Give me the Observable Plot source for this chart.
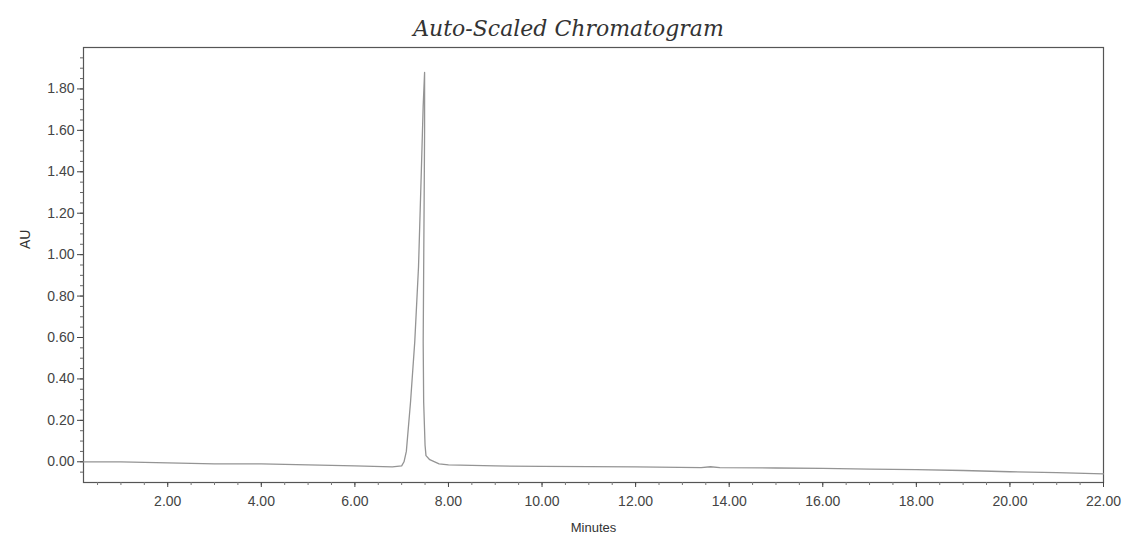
<!DOCTYPE html>
<html>
<head>
<meta charset="utf-8">
<script src="https://cdn.jsdelivr.net/npm/d3@7"></script>
<script src="https://cdn.jsdelivr.net/npm/@observablehq/plot@0.6"></script>
<style>
  html, body { margin: 0; padding: 0; background: #fff; }
</style>
</head>
<body>
<div id="chart"></div>
<script>
// Retention time (minutes) and absorbance (AU)
const minutes = [
  0.2, 1.0, 2.0, 3.0, 4.0, 5.0, 6.0, 6.8, 7.0, 7.05, 7.1, 7.19, 7.28, 7.36, 7.42, 7.46, 7.49,
  7.49, 7.48, 7.47, 7.46, 7.47, 7.50, 7.52, 7.6, 7.8, 8.0, 9.0, 10.0, 12.0, 13.4, 13.6, 13.8,
  15.0, 16.0, 17.0, 18.0, 19.0, 20.0, 21.0, 22.0
];
const absorbance = [
  0.00, 0.00, -0.005, -0.01, -0.01, -0.015, -0.02, -0.025, -0.02, 0.00, 0.05, 0.29, 0.58, 0.94, 1.40, 1.72, 1.88,
  1.60, 1.25, 0.92, 0.58, 0.29, 0.08, 0.03, 0.01, -0.01, -0.015, -0.02, -0.022, -0.025, -0.028, -0.024, -0.028,
  -0.03, -0.032, -0.035, -0.038, -0.042, -0.048, -0.052, -0.058
];
const xTicks = [2, 4, 6, 8, 10, 12, 14, 16, 18, 20, 22];
const yTicks = [0, 0.2, 0.4, 0.6, 0.8, 1.0, 1.2, 1.4, 1.6, 1.8];
const titleText = "Auto-Scaled Chromatogram";
const xLabel = "Minutes";
const yLabel = "AU";

const trace = minutes.map((m, i) => ({m, a: absorbance[i]}));
const xMinor = d3.range(0.5, 22.01, 0.5).filter(v => v >= 0.2);
const yMinor = d3.range(-0.05, 1.96, 0.05).map(v => +v.toFixed(2));

const axisColor = "#444";
const fmt = d => d.toFixed(2);

const chart = Plot.plot({
  width: 1133,
  height: 538,
  marginTop: 47,
  marginBottom: 56,
  marginLeft: 83,
  marginRight: 30,
  style: {fontFamily: "'Liberation Sans', Arial, sans-serif", background: "#fff", color: axisColor},
  x: {domain: [0.2, 22]},
  y: {domain: [-0.1, 2.0]},
  marks: [
    Plot.frame({stroke: "#555", strokeWidth: 1.2}),
    Plot.axisX({ticks: xMinor, tickSize: 3, text: null, stroke: "#777", label: null}),
    Plot.axisX({ticks: xTicks, tickSize: 5, tickPadding: 9, tickFormat: fmt, fontSize: 14, label: null, stroke: axisColor, fill: axisColor, style: {letterSpacing: "0.6px"}}),
    Plot.axisY({ticks: yMinor, tickSize: 3, text: null, stroke: "#666", label: null}),
    Plot.axisY({ticks: yTicks, tickSize: 6, tickPadding: 3, tickFormat: fmt, fontSize: 14, label: null, stroke: axisColor, fill: axisColor, style: {letterSpacing: "0.6px"}}),
    Plot.line(trace, {x: "m", y: "a", stroke: "#949494", strokeWidth: 1.3, curve: "linear"}),
    Plot.text([titleText], {frameAnchor: "top", dx: -25, dy: -19, fontSize: 22, fontStyle: "italic", fontFamily: "'DejaVu Serif', serif", fill: "#333", lineAnchor: "middle"}),
    Plot.text([xLabel], {frameAnchor: "bottom", dy: 45, fontSize: 13, fill: "#333", lineAnchor: "middle"}),
    Plot.text([yLabel], {frameAnchor: "left", dx: -58, dy: -16, rotate: -90, fontSize: 14, fill: "#333", lineAnchor: "middle"})
  ]
});
document.getElementById("chart").appendChild(chart);
</script>
</body>
</html>
